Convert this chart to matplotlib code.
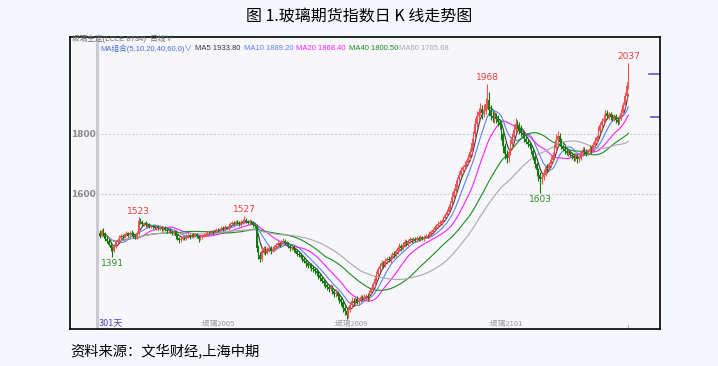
import numpy as np
import pandas as pd
import matplotlib
matplotlib.use('Agg')
import matplotlib.pyplot as plt

plt.rcParams['font.family'] = ['Noto Sans CJK SC', 'DejaVu Sans']

# daily closes, 301 days (open = previous close)
first_open = 1470
closes = [
    1462, 1478, 1470, 1452, 1445, 1432, 1420, 1412, 1425, 1440,
    1448, 1455, 1462, 1458, 1466, 1470, 1465, 1472, 1468, 1462,
    1458, 1470, 1512, 1508, 1500, 1503, 1496, 1498, 1492, 1494,
    1490, 1488, 1493, 1486, 1490, 1484, 1488, 1482, 1478, 1480,
    1474, 1470, 1476, 1462, 1455, 1448, 1452, 1458, 1455, 1460,
    1463, 1458, 1465, 1462, 1466, 1460, 1452, 1456, 1462, 1465,
    1468, 1472, 1470, 1476, 1474, 1478, 1482, 1480, 1485, 1488,
    1484, 1490, 1488, 1494, 1500, 1505, 1502, 1508, 1504, 1500,
    1506, 1510, 1514, 1508, 1505, 1510, 1506, 1498, 1494, 1420,
    1398, 1385, 1412, 1420, 1408, 1416, 1422, 1412, 1418, 1425,
    1430, 1436, 1432, 1440, 1445, 1438, 1434, 1428, 1420, 1424,
    1415, 1410, 1402, 1398, 1390, 1384, 1378, 1370, 1362, 1366,
    1355, 1350, 1345, 1338, 1330, 1320, 1312, 1305, 1298, 1290,
    1285, 1292, 1278, 1268, 1272, 1262, 1250, 1240, 1222, 1210,
    1198, 1215, 1232, 1245, 1238, 1250, 1242, 1248, 1256, 1252,
    1258, 1262, 1256, 1270, 1285, 1300, 1318, 1335, 1350, 1362,
    1370, 1365, 1378, 1385, 1380, 1392, 1402, 1398, 1410, 1420,
    1428, 1420, 1432, 1440, 1435, 1444, 1450, 1446, 1452, 1448,
    1455, 1450, 1456, 1452, 1458, 1462, 1460, 1468, 1475, 1482,
    1490, 1495, 1500, 1505, 1512, 1520, 1530, 1542, 1556, 1570,
    1592, 1610, 1635, 1650, 1665, 1680, 1690, 1698, 1705, 1720,
    1740, 1770, 1800, 1835, 1860, 1875, 1885, 1870, 1880, 1900,
    1915, 1880, 1862, 1855, 1860, 1850, 1842, 1830, 1800, 1760,
    1735, 1720, 1742, 1768, 1790, 1815, 1835, 1830, 1818, 1805,
    1798, 1785, 1775, 1768, 1760, 1745, 1725, 1700, 1680, 1665,
    1650, 1658, 1672, 1690, 1686, 1700, 1715, 1730, 1755, 1782,
    1795, 1775, 1760, 1752, 1745, 1738, 1740, 1732, 1728, 1720,
    1725, 1718, 1722, 1735, 1748, 1742, 1738, 1745, 1752, 1748,
    1765, 1778, 1790, 1812, 1830, 1845, 1852, 1870, 1862, 1866,
    1858, 1852, 1860, 1848, 1842, 1855, 1872, 1898, 1926, 1962,
    2002,
]

# upper / lower shadow lengths (price units)
up_wick = [
    12, 6, 8, 5, 10, 6, 8, 7, 9, 5,
    6, 8, 5, 7, 6, 9, 5, 6, 8, 5,
    7, 6, 11, 8, 6, 5, 7, 4, 6, 5,
    5, 6, 4, 5, 6, 4, 5, 6, 4, 5,
    6, 5, 4, 6, 5, 4, 6, 5, 4, 6,
    5, 4, 6, 5, 4, 6, 5, 7, 4, 5,
    6, 4, 5, 6, 4, 5, 6, 5, 4, 6,
    5, 6, 4, 8, 6, 5, 7, 6, 5, 6,
    8, 6, 13, 6, 5, 6, 5, 4, 6, 8,
    10, 8, 12, 9, 6, 8, 10, 6, 8, 7,
    6, 8, 5, 7, 9, 6, 5, 7, 6, 8,
    6, 5, 8, 6, 5, 7, 6, 5, 9, 6,
    5, 7, 6, 8, 5, 7, 6, 5, 7, 6,
    8, 10, 6, 7, 12, 6, 8, 7, 6, 9,
    10, 14, 8, 12, 9, 7, 10, 6, 8, 7,
    9, 6, 8, 10, 7, 9, 8, 10, 7, 9,
    12, 8, 10, 7, 9, 8, 6, 10, 8, 7,
    9, 6, 8, 10, 7, 6, 8, 5, 7, 6,
    6, 5, 7, 6, 5, 7, 6, 8, 7, 6,
    8, 6, 10, 8, 6, 9, 8, 10, 12, 9,
    14, 10, 12, 9, 11, 10, 8, 12, 10, 14,
    15, 18, 12, 20, 16, 14, 18, 12, 22, 20,
    53, 25, 18, 14, 16, 12, 15, 10, 18, 12,
    10, 14, 12, 16, 14, 20, 18, 12, 10, 14,
    10, 12, 8, 10, 9, 8, 10, 7, 9, 8,
    10, 8, 12, 9, 10, 8, 12, 10, 14, 20,
    16, 10, 12, 9, 8, 10, 7, 9, 8, 10,
    14, 8, 10, 12, 9, 8, 10, 7, 12, 9,
    10, 12, 9, 14, 12, 10, 16, 12, 10, 9,
    8, 10, 7, 9, 8, 10, 12, 9, 14, 12,
    35,
]
dn_wick = [
    8, 6, 10, 7, 8, 6, 9, 21, 6, 5,
    6, 5, 7, 6, 5, 6, 8, 5, 6, 7,
    6, 8, 5, 6, 7, 5, 6, 5, 4, 6,
    5, 4, 6, 5, 4, 6, 5, 4, 6, 5,
    4, 6, 5, 10, 8, 12, 6, 5, 7, 6,
    5, 7, 4, 6, 5, 6, 10, 5, 6, 4,
    5, 6, 4, 5, 6, 4, 5, 6, 4, 5,
    6, 5, 4, 6, 5, 4, 6, 5, 4, 6,
    5, 4, 6, 5, 4, 6, 5, 6, 8, 12,
    15, 12, 8, 10, 9, 7, 8, 10, 6, 7,
    6, 5, 7, 6, 5, 7, 6, 8, 10, 6,
    8, 7, 9, 8, 6, 10, 8, 12, 9, 7,
    10, 8, 12, 9, 14, 10, 8, 12, 9, 10,
    10, 8, 12, 10, 9, 14, 11, 12, 15, 14,
    13, 10, 8, 12, 10, 9, 8, 10, 7, 9,
    8, 10, 12, 7, 6, 8, 9, 7, 8, 10,
    9, 12, 8, 10, 7, 9, 8, 10, 7, 9,
    8, 10, 7, 8, 9, 6, 7, 8, 6, 7,
    6, 7, 5, 6, 7, 5, 6, 5, 6, 7,
    6, 7, 5, 6, 8, 6, 7, 5, 6, 8,
    7, 6, 8, 10, 7, 9, 8, 10, 9, 8,
    10, 12, 10, 14, 12, 15, 10, 18, 14, 12,
    15, 20, 16, 14, 18, 12, 16, 14, 20, 22,
    18, 16, 14, 12, 15, 10, 12, 14, 16, 12,
    10, 12, 9, 10, 8, 10, 12, 14, 18, 20,
    47, 16, 12, 10, 12, 9, 10, 8, 10, 12,
    12, 14, 10, 9, 12, 8, 10, 9, 12, 10,
    9, 14, 10, 8, 9, 12, 10, 8, 9, 10,
    8, 9, 10, 8, 9, 10, 8, 9, 12, 10,
    10, 9, 8, 12, 10, 9, 8, 7, 9, 8,
    10,
]

ma_periods = [5, 10, 20, 40, 60]
ma_colors = ['#383838', '#5a82ff', '#ff1eff', '#1e8c1e', '#a8a8a8']
ma_last = ['1933.80', '1889.20', '1868.40', '1800.50', '1765.68']

peak_labels = [(7, 1391, 'low'), (22, 1523, 'high'), (82, 1527, 'high'),
               (220, 1968, 'high'), (250, 1603, 'low'), (300, 2037, 'high')]
contract_ticks = [(57, ':玻璃2005'), (132.5, ':玻璃2009'), (220.5, ':玻璃2101')]

df = pd.DataFrame({'close': closes})
df['open'] = df['close'].shift(1).fillna(first_open)
df['high'] = df[['open', 'close']].max(axis=1) + np.array(up_wick)
df['low'] = df[['open', 'close']].min(axis=1) - np.array(dn_wick)
x = np.arange(len(df))

W, H = 718, 366
fig = plt.figure(figsize=(W / 100, H / 100), dpi=100)
fig.patch.set_facecolor('#f4f8fe')

def px(xp, yp):
    return xp / W, 1 - yp / H

left, right, top, bottom = 70, 660, 37, 329
ax = fig.add_axes([left / W, 1 - bottom / H, (right - left) / W, (bottom - top) / H])
ax.set_facecolor('#f7f6fb')
ax.set_xlim(-17, 318)
ax.set_ylim(1151, 2124)
ax.set_xticks([])
ax.set_yticks([])
for s in ax.spines.values():
    s.set_color('black')
    s.set_linewidth(1.2)

# price grid
for lvl in [1800, 1600]:
    ax.plot([-1.4, 318], [lvl, lvl], color='#c8c8cc', lw=0.7, ls=(0, (2, 2)))
    ax.text(-2.4, lvl, str(lvl), ha='right', va='center', fontsize=6.5,
            color='#8a8a8a', fontweight='bold', family='DejaVu Sans')
ax.axvline(-1.4, color='#cacad2', lw=2.2)

# moving averages
for p, c in zip(ma_periods, ma_colors):
    ma = df['close'].rolling(p, min_periods=1).mean()
    ax.plot(x, ma, color=c, lw=0.8, zorder=2)

# candles
up = df['close'] >= df['open']
col = np.where(up, '#f45252', '#0b7e0b')
ax.vlines(x, df['low'], df['high'], colors=col, lw=0.8, zorder=3)
body_lo = df[['open', 'close']].min(axis=1)
body_h = (df['close'] - df['open']).abs().clip(lower=1.5)
ax.bar(x, body_h, bottom=body_lo, width=0.9, color=col, linewidth=0, zorder=4)

# extreme labels
for d, v, kind in peak_labels:
    if kind == 'high':
        ax.text(d, v + 6, str(v), ha='center', va='bottom', fontsize=6.5,
                color='#f03c3c', family='DejaVu Sans')
    else:
        ax.text(d, v - 6, str(v), ha='center', va='top', fontsize=6.5,
                color='#2e8e2e', family='DejaVu Sans')

# contract labels along bottom
for d, lab in contract_ticks:
    ax.text(d, 1156, lab, ha='left', va='bottom', fontsize=5.5, color='#9a9a9a')
ax.text(-1, 1156, '301天', ha='left', va='bottom', fontsize=6.5, color='#4646c0')
ax.plot([300, 300], [1153, 1163], color='#b0b0b0', lw=0.7)

# current price markers on right
ax.plot([311.5, 318], [2000, 2000], color='#5a5ac8', lw=1.2)
ax.plot([313, 318], [1858, 1858], color='#5a5ac8', lw=1.2)

# header strip
hdr_font = ['Liberation Sans', 'Noto Sans CJK SC']
fig.text(*px(72, 39), '玻璃主连(LCLE 8734)  日线∨', fontsize=5.5, color='#707070',
         va='center', ha='left', family=hdr_font)
fig.text(*px(100.5, 49), 'MA组合(5,10,20,40,60,0)∨', fontsize=5.5, color='#4a6ee0',
         va='center', ha='left', family=hdr_font)
hx = [195, 244, 296, 349, 399]
for p, c, v, xx in zip(ma_periods, ma_colors, ma_last, hx):
    fig.text(*px(xx, 49), f'MA{p} {v}', fontsize=5.5, color=c, va='center', ha='left',
             family=hdr_font)

fig.text(*px(359, 17), '图 1.玻璃期货指数日 K 线走势图', fontsize=11.5, color='black',
         ha='center', va='center')
fig.text(*px(70, 351), '资料来源：文华财经,上海中期', fontsize=10.3, color='black',
         ha='left', va='center')

fig.savefig('out.png', dpi=100, facecolor=fig.get_facecolor())
